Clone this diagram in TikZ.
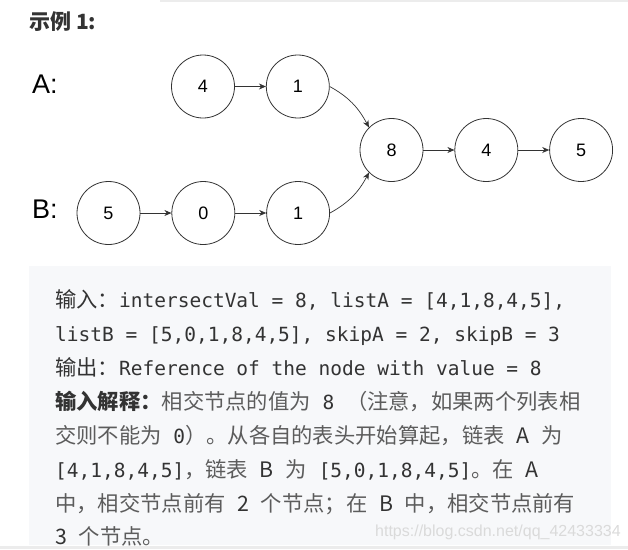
\documentclass[tikz,border=0pt]{standalone}
\usepackage{fontspec}
\setmainfont{Liberation Sans}
\newfontfamily\cjk{Noto Sans CJK SC}
\newfontfamily\code{DejaVu Sans Mono}
\usetikzlibrary{arrows.meta,positioning}
\definecolor{ink}{HTML}{333333}
\definecolor{bodygray}{HTML}{5C5C5C}
\definecolor{boxfill}{HTML}{F7F8FA}
\definecolor{rulegray}{HTML}{ECECEC}
\definecolor{wmark}{HTML}{DADADA}
\newcommand{\cd}[1]{{\code\fontsize{19.5}{23}\selectfont\color{ink}#1}}
\newcommand{\dk}[1]{{\color{ink}#1}}
\tikzset{
  listnode/.style={draw=ink,circle,line width=0.8pt,
                   minimum size=63pt,inner sep=0pt,
                   font=\fontsize{18}{18}\selectfont,text=black},
  linkarr/.style={-{Stealth[length=7pt,width=6pt]},line width=0.7pt,draw=ink},
  rowlabel/.style={anchor=west,inner sep=0pt,font=\fontsize{27}{27}\selectfont},
  txtline/.style={anchor=base west,inner sep=0pt,
                  font=\cjk\fontsize{21.3}{21.3}\selectfont,text=bodygray}
}

\begin{document}
\begin{tikzpicture}[x=1pt,y=1pt]
  \useasboundingbox (0,0) rectangle (628,-549);
  \fill[rulegray] (160,0) rectangle (628,-1.5);
  \fill[boxfill] (29,-266) rectangle (611,-545);
  \fill[rulegray] (0,-546) rectangle (628,-549);
  % lists
  \node[anchor=west,inner sep=0pt,font=\cjk\bfseries\fontsize{21}{21}\selectfont,text=ink] (title) at (29,-22) {示例 1:};
  \node[rowlabel] (labA) at (32,-84) {A:};
  \node[rowlabel] (labB) at (32,-209) {B:};
  \node[listnode] (a4) at (203,-86.5) {4};
  \node[listnode,right=31pt of a4] (a1) {1};
  \node[listnode] (b5) at (108.5,-213) {5};
  \node[listnode,right=31pt of b5] (b0) {0};
  \node[listnode,right=31pt of b0] (b1) {1};
  \node[listnode] (c8) at (391.5,-150) {8};
  \node[listnode,right=31pt of c8] (c4) {4};
  \node[listnode,right=31pt of c4] (c5) {5};
  \draw[linkarr] (a4) -- (a1);
  \draw[linkarr] (b5) -- (b0);
  \draw[linkarr] (b0) -- (b1);
  \draw[linkarr] (c8) -- (c4);
  \draw[linkarr] (c4) -- (c5);
  \draw[linkarr] (a1.east) to[out=-29,in=118] (c8.135);
  \draw[linkarr] (b1.east) to[out=29,in=-118] (c8.225);
  % explanation
  \node[txtline] (l1) at (55,-307) {\dk{输入：}\cd{intersectVal = 8, listA = [4,1,8,4,5],}};
  \node[txtline] (l2) at (55,-341) {\cd{listB = [5,0,1,8,4,5], skipA = 2, skipB = 3}};
  \node[txtline] (l3) at (55,-375) {\dk{输出：}\cd{Reference of the node with value = 8}};
  \node[txtline] (l4) at (55,-409) {\dk{\bfseries 输入解释：}相交节点的值为\cd{\ 8\ }（注意，如果两个列表相};
  \node[txtline] (l5) at (55,-443) {交则不能为\cd{\ 0}）。从各自的表头开始算起，链表\cd{\ }\dk{A}\cd{\ }为};
  \node[txtline] (l6) at (55,-477) {\cd{[4,1,8,4,5]}，链表\cd{\ }\dk{B}\cd{\ }为\cd{\ [5,0,1,8,4,5]}。在\cd{\ }\dk{A}};
  \node[txtline] (l7) at (55,-511) {中，相交节点前有\cd{\ }\dk{2}\cd{\ }个节点；在\cd{\ }\dk{B}\cd{\ }中，相交节点前有};
  \node[txtline] (l8) at (55,-544) {\dk{3}\cd{\ }个节点。};
  \node[anchor=base west,inner sep=0pt,font=\fontsize{16}{16}\selectfont,text=wmark] (mark) at (375,-536) {https://blog.csdn.net/qq\_42433334};
\end{tikzpicture}
\end{document}
